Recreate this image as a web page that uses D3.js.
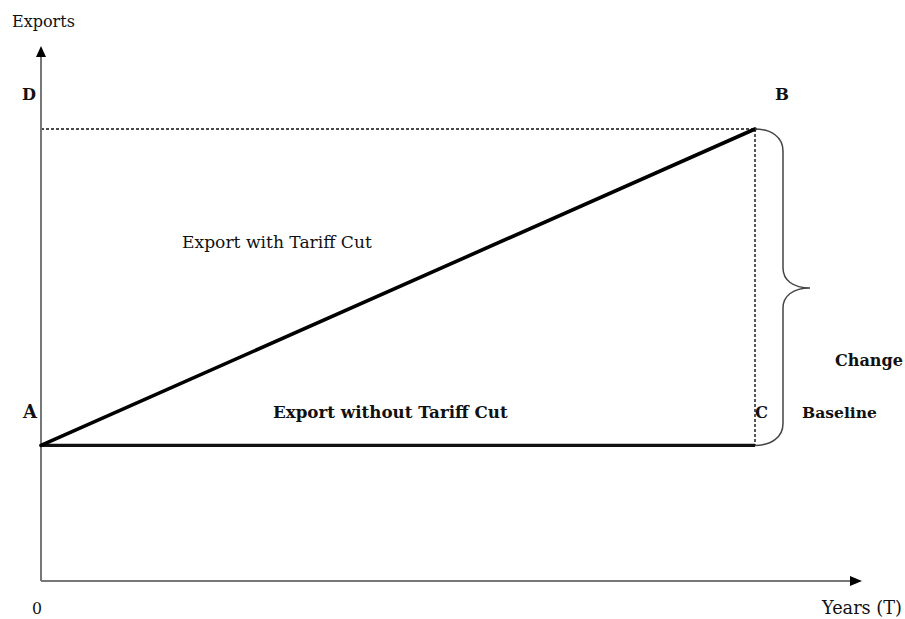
<!DOCTYPE html>
<html>
<head>
<meta charset="utf-8">
<script src="https://cdn.jsdelivr.net/npm/d3@7"></script>
<style>
  html, body { margin: 0; padding: 0; background: #fff; }
  svg { display: block; }
  text { font-family: "DejaVu Serif", "Liberation Serif", serif; fill: #111; }
</style>
</head>
<body>
<svg id="chart" width="905" height="619"></svg>
<script>
// ---- data ----
const timePoints = [0, 1];                 // 0 and T
const exportWithCut = [30, 100];           // A -> B
const exportWithoutCut = [30, 30];         // A -> C (baseline)
const xTickLabels = ["0"];
const axisTitles = { y: "Exports", x: "Years (T)" };
const pointLabels = ["A", "B", "C", "D"];
const seriesNames = ["Export with Tariff Cut", "Export without Tariff Cut"];
const braceLabels = ["Change", "Baseline"];

// ---- layout ----
const svg = d3.select("#chart");
const x = d3.scaleLinear().domain([0, 1]).range([41, 755]);
const y = d3.scaleLinear().domain([0, 100]).range([581, 129]);
const xAxisEnd = 862, yAxisTop = 46;

function fitText(sel, targetWidth, bold) {
  sel.attr("font-size", 16).attr("font-weight", bold ? "bold" : "normal");
  const w = sel.node().getComputedTextLength();
  sel.attr("font-size", (16 * targetWidth / w).toFixed(2));
  return sel;
}
function label(txt, xp, yp, width, bold, anchor) {
  const t = svg.append("text").attr("x", xp).attr("y", yp).text(txt)
    .attr("text-anchor", anchor || "start");
  fitText(t, width, bold);
  return t;
}

// dotted guides
svg.append("line")
  .attr("x1", x(0)).attr("x2", x(1)).attr("y1", y(exportWithCut[1])).attr("y2", y(exportWithCut[1]))
  .attr("stroke", "#111").attr("stroke-width", 1.4).attr("stroke-dasharray", "3,2");
svg.append("line")
  .attr("x1", x(1)).attr("x2", x(1)).attr("y1", y(exportWithCut[1])).attr("y2", y(exportWithoutCut[1]))
  .attr("stroke", "#111").attr("stroke-width", 1.4).attr("stroke-dasharray", "3,2");

// axes
svg.append("line").attr("x1", x(0)).attr("x2", x(0)).attr("y1", y(0)).attr("y2", yAxisTop + 8)
  .attr("stroke", "#777").attr("stroke-width", 2);
svg.append("line").attr("x1", x(0)).attr("x2", xAxisEnd - 8).attr("y1", y(0)).attr("y2", y(0))
  .attr("stroke", "#777").attr("stroke-width", 2);
svg.append("path").attr("d", `M${x(0)},${yAxisTop} L${x(0)-5},${yAxisTop+11} L${x(0)+5},${yAxisTop+11} Z`).attr("fill", "#000");
svg.append("path").attr("d", `M${xAxisEnd},${y(0)} L${xAxisEnd-12},${y(0)-5} L${xAxisEnd-12},${y(0)+5} Z`).attr("fill", "#000");

// series lines
const line = d3.line().x((d, i) => x(timePoints[i])).y(d => y(d));
svg.append("path").datum(exportWithoutCut).attr("d", line)
  .attr("fill", "none").attr("stroke", "#111").attr("stroke-width", 3.2);
svg.append("path").datum(exportWithCut).attr("d", line)
  .attr("fill", "none").attr("stroke", "#000").attr("stroke-width", 3.6).attr("stroke-linecap", "round");

// brace
const bx = x(1), bTop = y(exportWithCut[1]), bBot = y(exportWithoutCut[1]);
const vx = bx + 28, tipX = bx + 55, mid = 288;
svg.append("path")
  .attr("d", `M${bx},${bTop} C${bx+16},${bTop} ${vx},${bTop+8} ${vx},${bTop+22}
    L${vx},${mid-20} C${vx},${mid-8} ${vx+10},${mid} ${tipX},${mid}
    C${vx+10},${mid} ${vx},${mid+8} ${vx},${mid+20}
    L${vx},${bBot-22} C${vx},${bBot-8} ${bx+16},${bBot} ${bx},${bBot}`)
  .attr("fill", "none").attr("stroke", "#444").attr("stroke-width", 1.5);

// texts
label(axisTitles.y, 12, 27, 63, false);
label(axisTitles.x, 822, 614, 80, false);
label(xTickLabels[0], 32, 614, 10, false);
label(pointLabels[3], 22, 100, 14, true);
label(pointLabels[1], 775, 100, 14, true);
label(pointLabels[0], 23, 418, 14, true);
label(pointLabels[2], 755, 418, 13, true);
label(seriesNames[0], 182, 248, 190, false);
label(seriesNames[1], 273, 418, 235, true);
label(braceLabels[0], 835, 366, 68, true);
label(braceLabels[1], 802, 418, 75, true);
</script>
</body>
</html>
